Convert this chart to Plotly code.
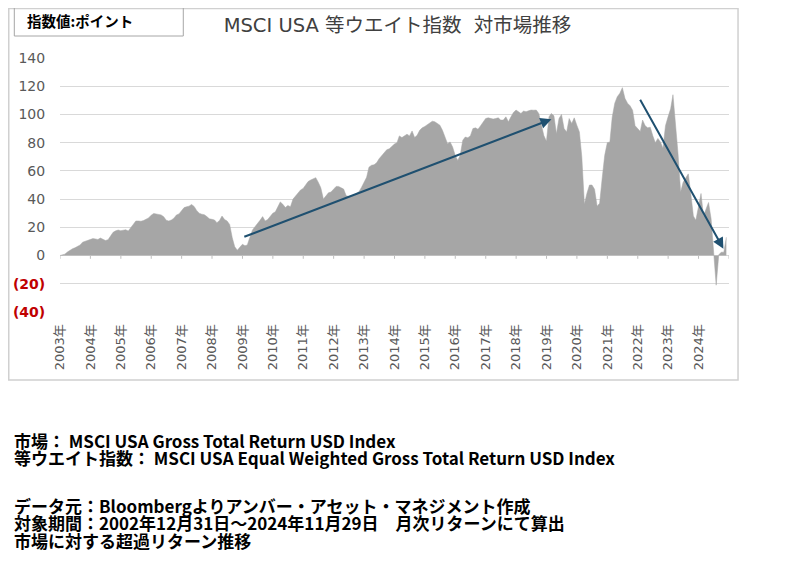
import pandas as pd
import plotly.graph_objects as go

# --------------------------------------------------
# data: month-end excess return vs market (points)
# 2002-12 .. 2024-11
# --------------------------------------------------
excess = [
    0.0, 0.3, 1.0, 2.5, 3.8, 4.8, 5.5, 6.5, 7.5, 9.5, 10.0, 10.5,
    11.0, 12.0, 11.8, 11.4, 12.4, 11.5, 10.7, 11.2, 13.5, 16.5, 17.5, 18.1,
    17.6, 18.0, 18.3, 17.4, 19.5, 22.0, 24.5, 24.5, 24.3, 24.8, 26.0, 26.7,
    28.6, 29.8, 29.5, 29.3, 28.8, 27.5, 25.0, 24.5, 25.2, 26.5, 28.8, 29.5,
    31.5, 34.0, 34.5, 35.0, 36.2, 34.8, 32.0, 30.0, 29.3, 29.0, 27.6, 26.0,
    25.7, 25.2, 23.3, 24.8, 28.0, 25.5, 24.5, 22.0, 12.6, 6.2, 3.8, 6.2,
    8.0, 7.0, 7.5, 13.0, 18.0, 20.5, 22.5, 25.0, 27.6, 24.5, 25.5, 27.5,
    30.0, 31.0, 34.0, 38.0, 36.4, 34.0, 35.5, 34.5, 40.0, 42.4, 44.5, 46.5,
    47.6, 50.0, 52.4, 53.5, 54.3, 55.2, 52.0, 48.0, 40.0, 42.0, 44.5, 45.0,
    47.1, 49.0, 49.0, 48.0, 47.1, 42.4, 41.9, 42.0, 42.4, 44.0, 45.2, 48.3,
    52.0, 55.5, 62.6, 64.0, 64.3, 65.7, 68.6, 71.0, 73.0, 75.0, 75.7, 77.6,
    79.0, 80.0, 84.8, 83.6, 84.5, 86.0, 84.8, 88.3, 83.6, 85.2, 88.8, 90.5,
    91.5, 92.9, 94.0, 95.2, 94.8, 93.5, 92.4, 88.8, 84.0, 79.3, 80.5, 76.9,
    71.0, 67.4, 71.0, 81.7, 84.0, 83.5, 84.8, 90.0, 90.5, 89.5, 92.0, 94.8,
    97.1, 97.6, 97.0, 96.7, 97.1, 97.6, 96.0, 96.0, 98.3, 94.8, 98.3, 101.4,
    103.1, 102.0, 100.7, 102.4, 101.9, 102.6, 103.1, 103.0, 103.1, 100.7, 92.4, 85.0,
    81.0, 98.3, 100.7, 99.0, 86.4, 97.1, 100.0, 90.0, 87.6, 97.1, 93.6, 97.6,
    92.4, 87.6, 70.0, 36.4, 44.0, 50.0, 50.0, 47.0, 35.0, 37.0, 55.0, 71.0,
    80.0, 80.5, 98.0, 108.0, 112.6, 115.0, 119.0, 111.4, 108.0, 106.2, 103.0, 92.0,
    90.0, 88.0, 96.0, 92.0, 90.5, 91.0, 85.0, 80.0, 83.0, 80.5, 76.0, 92.0,
    98.3, 104.0, 114.0, 95.0, 72.0, 45.0, 51.9, 55.0, 57.9, 44.0, 28.0, 25.0,
    35.0, 44.0, 28.0, 33.0, 37.6, 26.0, 5.0, -21.0, 0.5, 2.4, 2.4, 13.0,
]
dates = pd.date_range("2003-01-01", periods=len(excess), freq="MS") - pd.Timedelta(days=1)

y_ticks = [-40, -20, 0, 20, 40, 60, 80, 100, 120, 140]
y_labels = ['<span style="color:#C00000"><b>(40)</b></span>',
            '<span style="color:#C00000"><b>(20)</b></span>',
            "0", "20", "40", "60", "80", "100", "120", "140"]
years = list(range(2003, 2026))

notes = [
    "市場： MSCI USA Gross Total Return USD Index",
    "等ウエイト指数： MSCI USA Equal Weighted Gross Total Return USD Index",
    "データ元：Bloombergよりアンバー・アセット・マネジメント作成",
    "対象期間：2002年12月31日～2024年11月29日　月次リターンにて算出",
    "市場に対する超過リターン推移",
]
note_y = [-0.504, -0.573, -0.760, -0.829, -0.898]

FONT = "Noto Sans CJK JP"
TICKFONT = "DejaVu Sans, Noto Sans CJK JP"
GRID = "#D9D9D9"
ARROW = "#1F5070"

fig = go.Figure()

fig.add_trace(go.Scatter(
    x=dates, y=excess,
    mode="lines", fill="tozeroy",
    line=dict(color="#A6A6A6", width=0.5),
    fillcolor="#A6A6A6",
    hoverinfo="skip",
))

# small tick marks on the zero line
shapes = []
for yr in years:
    shapes.append(dict(type="line", xref="x", yref="y",
                       x0=f"{yr}-01-01", x1=f"{yr}-01-01", y0=0, y1=-2.3,
                       line=dict(color="#BFBFBF", width=1)))

# outer frame and unit box
shapes.append(dict(type="rect", xref="paper", yref="paper",
                   x0=-0.0766, x1=1.0135, y0=-0.268, y1=1.195,
                   line=dict(color="#D0D0D0", width=1.5)))
shapes.append(dict(type="rect", xref="paper", yref="paper",
                   x0=-0.0683, x1=0.1843, y0=1.0866, y1=1.2047,
                   line=dict(color="#A6A6A6", width=1)))

annotations = [
    dict(text="<b>指数値:ポイント</b>", xref="paper", yref="paper",
         x=-0.053, y=1.1457, xanchor="left", yanchor="middle",
         showarrow=False, font=dict(family=FONT, size=14.5, color="#000000")),
    # trend arrows
    dict(x="2019-03-01", y=96.6, ax="2009-01-05", ay=12.9,
         xref="x", yref="y", axref="x", ayref="y",
         showarrow=True, arrowhead=2, arrowsize=1.1, arrowwidth=2,
         arrowcolor=ARROW, text=""),
    dict(x="2024-10-26", y=4.8, ax="2022-01-20", ay=111.4,
         xref="x", yref="y", axref="x", ayref="y",
         showarrow=True, arrowhead=2, arrowsize=1.1, arrowwidth=2,
         arrowcolor=ARROW, text=""),
]
for txt, yy in zip(notes, note_y):
    annotations.append(dict(text=f"<b>{txt}</b>", xref="paper", yref="paper",
                            x=-0.0717, y=yy, xanchor="left", yanchor="middle",
                            showarrow=False,
                            font=dict(family=FONT, size=17, color="#000000")))

# the page body adds an 8px margin, so the figure is 8px smaller
fig.update_layout(
    width=792, height=559,
    margin=dict(l=52, r=71, t=50, b=255),
    paper_bgcolor="white", plot_bgcolor="white",
    showlegend=False,
    font=dict(family=FONT, color="#595959"),
    title=dict(text="MSCI USA 等ウエイト指数\u00a0\u00a0対市場推移",
               x=0.4918, xanchor="center", y=0.9696, yanchor="middle",
               font=dict(family=TICKFONT, size=19.5, color="#404040")),
    xaxis=dict(
        type="date",
        range=["2003-01-01", "2025-01-01"],
        tickvals=[f"{yr}-01-01" for yr in years[:-1]],
        tickformat="%Y年",
        tickangle=-90,
        ticks="outside", ticklen=6, tickcolor="rgba(0,0,0,0)",
        showgrid=False, zeroline=False, showline=False,
        automargin=False,
        tickfont=dict(family=TICKFONT, size=13, color="#595959"),
    ),
    yaxis=dict(
        range=[-40, 140],
        tickvals=y_ticks, ticktext=y_labels,
        ticks="outside", ticklen=11, tickcolor="rgba(0,0,0,0)",
        showgrid=True, gridcolor=GRID, gridwidth=1,
        zeroline=True, zerolinecolor=GRID, zerolinewidth=1,
        automargin=False,
        tickfont=dict(family=TICKFONT, size=14, color="#595959"),
    ),
    shapes=shapes,
    annotations=annotations,
)

fig.write_html("out.html")
